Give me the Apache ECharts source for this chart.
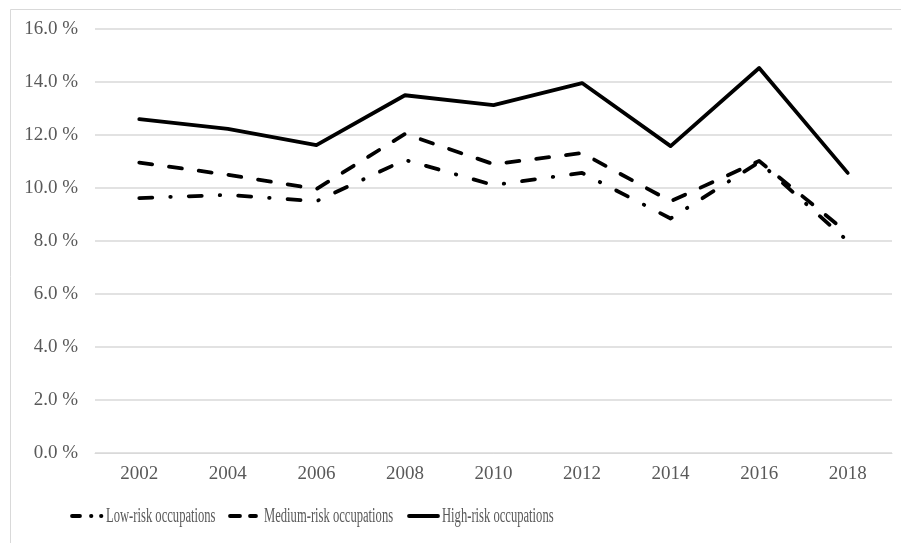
<!DOCTYPE html>
<html>
<head>
<meta charset="utf-8">
<script src="https://cdn.jsdelivr.net/npm/echarts@6/dist/echarts.min.js"></script>
<style>html,body{margin:0;padding:0;background:#fff}#c{width:901px;height:543px}</style>
</head>
<body>
<div id="c"></div>
<script>
var years = ['2002','2004','2006','2008','2010','2012','2014','2016','2018'];
var lowRisk = [9.62, 9.74, 9.50, 11.06, 10.11, 10.57, 8.85, 10.98, 8.00];
var mediumRisk = [10.96, 10.50, 9.96, 12.04, 10.90, 11.32, 9.50, 11.02, 8.30];
var highRisk = [12.60, 12.23, 11.62, 13.50, 13.13, 13.96, 11.58, 14.53, 10.57];
var seriesNames = ['Low-risk occupations', 'Medium-risk occupations', 'High-risk occupations'];

var font = '"Liberation Serif","Times New Roman",serif';
var lineW = 3.8;
function seg(x1, x2, y) {
  return {type: 'line', silent: true,
    shape: {x1: x1, y1: y, x2: x2, y2: y},
    style: {stroke: '#000', lineWidth: lineW, lineCap: 'round'}};
}
function label(txt, x, y) {
  return {type: 'text', silent: true, x: x, y: y, scaleX: 0.63,
    style: {text: txt, fontFamily: font, fontSize: 20, fill: '#595959', verticalAlign: 'middle', align: 'left'}};
}
var ly = 516;
var legendGraphics = [
  seg(72, 80, ly), seg(91, 91.4, ly), seg(101, 101.4, ly), label(seriesNames[0], 106, ly + 1),
  seg(230, 240, ly), seg(250, 256, ly), label(seriesNames[1], 264, ly + 1),
  seg(409, 438, ly), label(seriesNames[2], 442, ly + 1)
];

var chart = echarts.init(document.getElementById('c'), null, {renderer: 'canvas'});
chart.setOption({
  animation: false,
  backgroundColor: '#fff',
  graphic: [{
    type: 'rect', left: 8, top: 7,
    shape: {x: 0, y: 0, width: 900, height: 534},
    style: {fill: 'none', stroke: '#d9d9d9', lineWidth: 1}, silent: true, z: -1
  }].concat(legendGraphics),
  grid: {left: 95, right: 9, top: 29, bottom: 90},
  xAxis: {
    type: 'category', data: years, boundaryGap: true,
    axisLine: {show: true, lineStyle: {color: '#d9d9d9', width: 1}},
    axisTick: {show: false},
    axisLabel: {fontFamily: font, fontSize: 19, color: '#595959', margin: 12}
  },
  yAxis: {
    type: 'value', min: 0, max: 16, interval: 2,
    axisLine: {show: false}, axisTick: {show: false},
    splitLine: {lineStyle: {color: '#d9d9d9', width: 1.5}},
    axisLabel: {fontFamily: font, fontSize: 19, color: '#595959', margin: 17,
      formatter: function (v) { return v.toFixed(1) + ' %'; }}
  },
  series: [
    {name: seriesNames[0], type: 'line', data: lowRisk, symbol: 'none',
      lineStyle: {color: '#000', width: lineW, type: [13, 18, 0.5, 18], cap: 'round', join: 'round'},
      itemStyle: {color: '#000'}},
    {name: seriesNames[1], type: 'line', data: mediumRisk, symbol: 'none',
      lineStyle: {color: '#000', width: lineW, type: [13, 17], cap: 'round', join: 'round'},
      itemStyle: {color: '#000'}},
    {name: seriesNames[2], type: 'line', data: highRisk, symbol: 'none',
      lineStyle: {color: '#000', width: lineW, type: 'solid', cap: 'round', join: 'round'},
      itemStyle: {color: '#000'}}
  ]
});
</script>
</body>
</html>
